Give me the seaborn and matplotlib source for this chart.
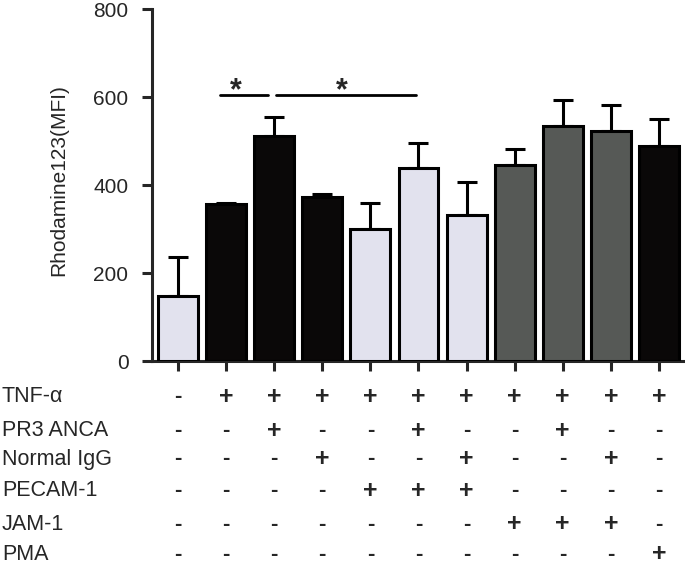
import matplotlib
matplotlib.use("Agg")
import matplotlib.pyplot as plt
import matplotlib.transforms as mtransforms
import pandas as pd
import seaborn as sns

# bar values
means = [148, 357, 511, 373, 300, 439, 332, 445, 534, 523, 489]
sems = [88, 3, 44, 6, 59, 56, 75, 36, 59, 59, 61]
groups = ["ctrl", "tnf", "tnf", "tnf", "pecam", "pecam", "pecam",
          "jam", "jam", "jam", "pma"]

# treatment table under the x-axis
row_names = ["TNF-α", "PR3 ANCA", "Normal IgG", "PECAM-1", "JAM-1", "PMA"]
treatments = [
    "-++++++++++",
    "--+--+--+--",
    "---+--+--+-",
    "----+++----",
    "-------+++-",
    "----------+",
]

palette = {"ctrl": "#e0e0f0", "tnf": "#0a0808", "pecam": "#e0e0f0",
           "jam": "#555a55", "pma": "#0a0808"}

df = pd.DataFrame({
    "cond": [str(i) for i in range(len(means))],
    "mfi": means,
    "group": groups,
})

sns.set_style("ticks")
plt.rcParams["font.family"] = ["Liberation Sans", "DejaVu Sans"]

fig = plt.figure(figsize=(6.85, 5.65), dpi=100)
ax = fig.add_axes([0.222, 0.361, 0.775, 0.623])

sns.barplot(data=df, x="cond", y="mfi", hue="group", palette=palette,
            dodge=False, width=0.83, legend=False, edgecolor="black",
            linewidth=2.2, ax=ax, zorder=3)
ax.errorbar(range(len(means)), means, yerr=[[0] * len(sems), sems],
            fmt="none", ecolor="black", elinewidth=2.2, capsize=7,
            capthick=2.2, zorder=2)

ax.set_ylim(0, 800)
ax.set_xlim(-0.54, 10.5)
ax.set_yticks([0, 200, 400, 600, 800])
ax.set_xticklabels([])
ax.set_xlabel("")
ax.set_ylabel("Rhodamine123(MFI)", fontsize=15)
ax.yaxis.set_label_coords(-0.158, 0.514)
ax.tick_params(axis="both", width=2.2, length=7, labelsize=15)
ax.tick_params(axis="y", pad=10)
for side in ["left", "bottom"]:
    ax.spines[side].set_linewidth(2.2)
sns.despine(ax=ax)

# significance bars
ax.plot([0.88, 1.87], [605, 605], color="black", lw=2, clip_on=False)
ax.text(1.2, 578, "*", ha="center", va="bottom", fontsize=22, fontweight="bold")
ax.plot([2.04, 4.95], [605, 605], color="black", lw=2, clip_on=False)
ax.text(3.4, 578, "*", ha="center", va="bottom", fontsize=22, fontweight="bold")

# treatment table
trans = mtransforms.blended_transform_factory(ax.transData, fig.transFigure)
row_y = [397, 431, 459, 491, 524, 554]
for name, signs, yp in zip(row_names, treatments, row_y):
    yf = 1 - yp / 565
    fig.text(2 / 685, yf, name, ha="left", va="center", fontsize=15.5)
    for i, s in enumerate(signs):
        if s == "+":
            ax.text(i, yf, "+", transform=trans, ha="center", va="center",
                    fontsize=18, fontweight="bold")
        else:
            ax.text(i, yf, "-", transform=trans, ha="center", va="center",
                    fontsize=16, fontweight="bold")

fig.savefig("out.png", dpi=100)
